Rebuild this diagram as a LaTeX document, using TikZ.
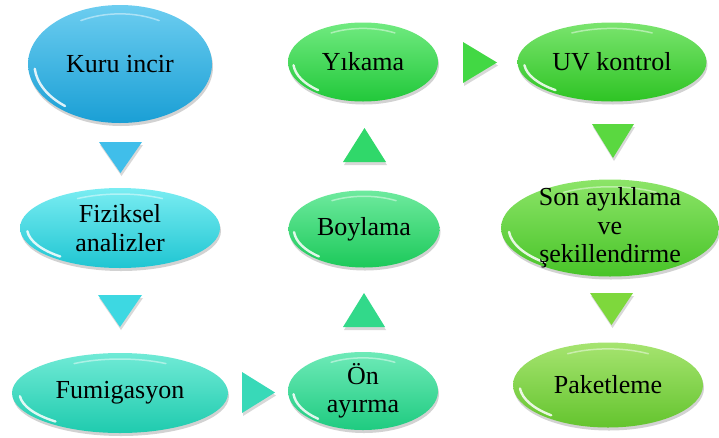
\documentclass[tikz,border=0pt]{standalone}
\usepackage{fontspec}
\setmainfont{Liberation Serif}
\usetikzlibrary{shapes.geometric,shadows}
\definecolor{eA1}{HTML}{6CCDF0}\definecolor{eA2}{HTML}{41BDEA}\definecolor{eA3}{HTML}{1A9FD5}
\definecolor{eB1}{HTML}{7AEDF2}\definecolor{eB2}{HTML}{3ADCE5}\definecolor{eB3}{HTML}{1FC5D2}
\definecolor{eC1}{HTML}{70EAD6}\definecolor{eC2}{HTML}{3ADEC5}\definecolor{eC3}{HTML}{1FCBAE}
\definecolor{eD1}{HTML}{6EEAB8}\definecolor{eD2}{HTML}{3BDE9C}\definecolor{eD3}{HTML}{1FCB80}
\definecolor{eE1}{HTML}{6EEA9E}\definecolor{eE2}{HTML}{35DC75}\definecolor{eE3}{HTML}{1CC95A}
\definecolor{eF1}{HTML}{70EA80}\definecolor{eF2}{HTML}{38DC50}\definecolor{eF3}{HTML}{22C83A}
\definecolor{eG1}{HTML}{7AE46E}\definecolor{eG2}{HTML}{45D83A}\definecolor{eG3}{HTML}{2EC424}
\definecolor{eH1}{HTML}{8CE468}\definecolor{eH2}{HTML}{62D83E}\definecolor{eH3}{HTML}{48C428}
\definecolor{eI1}{HTML}{A6E470}\definecolor{eI2}{HTML}{80D848}\definecolor{eI3}{HTML}{64C42E}
\definecolor{tA}{HTML}{40BEEA}\definecolor{tB}{HTML}{3DD8E2}\definecolor{tC}{HTML}{38D9B8}
\definecolor{tD}{HTML}{32D98A}\definecolor{tE}{HTML}{30D86A}\definecolor{tF}{HTML}{42D844}
\definecolor{tG}{HTML}{5AD840}\definecolor{tH}{HTML}{7ED83C}
\tikzset{
  bub/.style n args={3}{ellipse, inner sep=0pt, draw=none,
    top color=#1, middle color=#2, bottom color=#3,
    drop shadow={opacity=0.35, shadow xshift=1pt, shadow yshift=-3pt}},
  txt/.style={align=center, text=black, inner sep=0pt,
    font=\fontsize{26}{28.5}\selectfont},
  tri/.style={draw=none, fill=#1,
    drop shadow={opacity=0.3, shadow xshift=1pt, shadow yshift=-3pt}},
  gloss/.style={white, opacity=0.85, line width=2.4pt, line cap=round}
}
\newcommand{\bubble}[9]{%
  % #1 name, #2 x, #3 y, #4 w, #5 h, #6-#8 colours, #9 text
  \node[bub={#6}{#7}{#8}, minimum width=#4pt, minimum height=#5pt] (#1) at (#2,#3) {};
  \draw[gloss] (#1.center) ++({0.93*#4/2*cos(130)},{0.93*#5/2*sin(130)})
     arc[start angle=130, end angle=175, x radius={0.93*#4/2}, y radius={0.93*#5/2}];
  \draw[white, opacity=0.45, line width=1.5pt, line cap=round] (#1.center) ++({0.85*#4/2*cos(-60)},{0.85*#5/2*sin(-60)})
     arc[start angle=-60, end angle=-120, x radius={0.85*#4/2}, y radius={0.85*#5/2}];
  \node[txt] (#1t) at (#1.center) {#9};}
\newcommand{\tridown}[5]{\fill[tri=#5] (#1-#3/2,#2-#4/2) -- (#1+#3/2,#2-#4/2) -- (#1,#2+#4/2) -- cycle;}
\newcommand{\triup}[5]{\fill[tri=#5] (#1-#3/2,#2+#4/2) -- (#1+#3/2,#2+#4/2) -- (#1,#2-#4/2) -- cycle;}
\newcommand{\triright}[5]{\fill[tri=#5] (#1-#3/2,#2-#4/2) -- (#1-#3/2,#2+#4/2) -- (#1+#3/2,#2) -- cycle;}
\begin{document}
\begin{tikzpicture}[x=1pt,y=-1pt]
\useasboundingbox[fill=white] (0,0) rectangle (719,437);
\bubble{e1}{120}{64}{184}{118}{eA1}{eA2}{eA3}{Kuru incir}
\bubble{e2}{120}{228}{200}{80}{eB1}{eB2}{eB3}{Fiziksel\\analizler}
\bubble{e3}{120}{393}{216}{80}{eC1}{eC2}{eC3}{Fumigasyon}
\bubble{e4}{363}{391}{150}{78}{eD1}{eD2}{eD3}{Ön\\ayırma}
\bubble{e5}{364}{229}{151}{77}{eE1}{eE2}{eE3}{Boylama}
\bubble{e6}{363}{62}{150}{79}{eF1}{eF2}{eF3}{Yıkama}
\bubble{e7}{612}{62}{189}{79}{eG1}{eG2}{eG3}{UV kontrol}
\bubble{e8}{610}{228}{218}{97}{eH1}{eH2}{eH3}{Son ayıklama\\ve\\şekillendirme}
\bubble{e9}{608}{385}{190}{85}{eI1}{eI2}{eI3}{Paketleme}
\tridown{120.5}{157.5}{43}{31}{tA}
\tridown{120}{311}{44}{32}{tB}
\triright{258.5}{392.5}{33}{41}{tC}
\triup{364}{310}{42}{34}{tD}
\triup{364.5}{145}{43}{34}{tE}
\triright{480}{62.5}{34}{41}{tF}
\tridown{613}{141}{42}{34}{tG}
\tridown{611.5}{309}{43}{32}{tH}
\end{tikzpicture}
\end{document}
